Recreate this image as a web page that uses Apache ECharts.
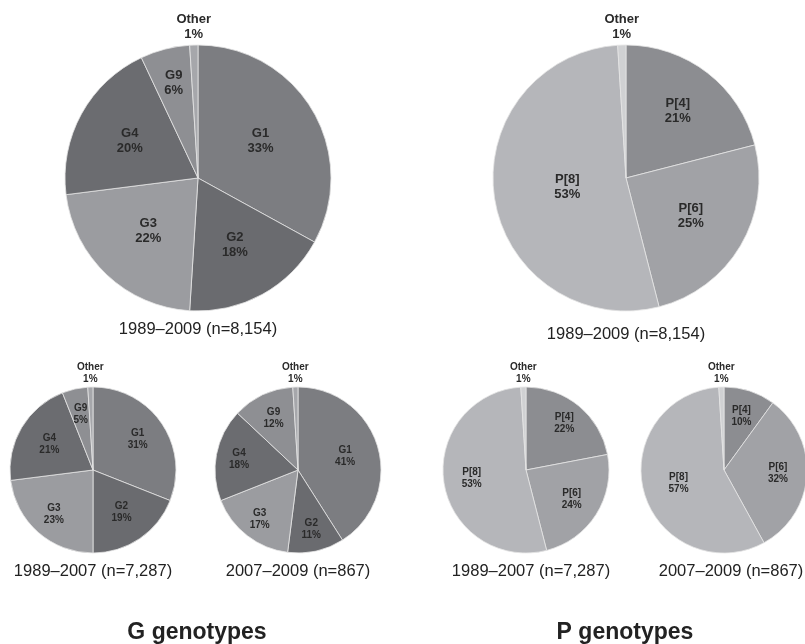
<!DOCTYPE html>
<html>
<head>
<meta charset="utf-8">
<script src="https://cdn.jsdelivr.net/npm/echarts@6/dist/echarts.min.js"></script>
<style>
html,body{margin:0;padding:0;background:#fff;}
#chart{width:805px;height:644px;}
</style>
</head>
<body>
<div id="chart"></div>
<script>
// ---- Data ----
const gNames = ['G1', 'G2', 'G3', 'G4', 'G9', 'Other'];
const gAll = [33, 18, 22, 20, 6, 1];        // 1989–2009 (n=8,154)
const gEarly = [31, 19, 23, 21, 5, 1];      // 1989–2007 (n=7,287)
const gLate = [41, 11, 17, 18, 12, 1];      // 2007–2009 (n=867)

const pNames = ['P[4]', 'P[6]', 'P[8]', 'Other'];
const pAll = [21, 25, 53, 1];
const pEarly = [22, 24, 53, 1];
const pLate = [10, 32, 57, 1];

const captions = ['1989–2009 (n=8,154)', '1989–2007 (n=7,287)', '2007–2009 (n=867)'];
const groupTitles = ['G genotypes', 'P genotypes'];

// ---- Styles ----
const gColors = ['#7c7d81', '#6a6b6f', '#9b9ca0', '#6b6c70', '#8e8f93', '#a6a7ab'];
const pColors = ['#8c8d91', '#a1a2a6', '#b5b6ba', '#d0d1d3'];
const FONT = 'Liberation Sans, Arial, Helvetica, sans-serif';
// label distance from centre, as a fraction of the radius (style only)
const gAllLabelR = [0.55, 0.58, 0.55, 0.59, 0.74];
const gEarlyLabelR = [0.64, 0.6, 0.7, 0.6, 0.67];
const gLateLabelR = [0.58, 0.72, 0.74, 0.71, 0.68];
const pAllLabelR = [0.64, 0.57, 0.45];
const pEarlyLabelR = [0.71, 0.64, 0.65];
const pLateLabelR = [0.67, 0.64, 0.56];
const LABEL_CAL = 0.95;

function pie(names, values, colors, center, radius, big, labelR) {
  const lastIdx = names.length - 1;
  const total = values.reduce((a, b) => a + b, 0);
  const otherGap = big ? 3 : 2;
  const data = names.map((n, i) => {
    const item = { name: n, value: values[i], itemStyle: { color: colors[i] } };
    if (i === lastIdx) {
      item.label = { position: 'outside', fontSize: big ? 13 : 10, lineHeight: big ? 15 : 12 };
      item.labelLine = { show: false, length: otherGap, length2: 0 };
    }
    return item;
  });
  return {
    type: 'pie',
    center: center,
    radius: radius,
    startAngle: 90,
    clockwise: true,
    avoidLabelOverlap: false,
    silent: true,
    itemStyle: { borderColor: '#e4e4e4', borderWidth: 0.8 },
    label: {
      show: true,
      position: 'inside',
      formatter: '{b}\n{c}%',
      fontFamily: FONT,
      fontWeight: 'bold',
      fontSize: big ? 13 : 10,
      lineHeight: big ? 15 : 12,
      color: '#2a2a2a',
      align: 'center'
    },
    labelLine: { show: false },
    labelLayout: function (p) {
      if (p.dataIndex === lastIdx) {
        const ang = (total - values[lastIdx] / 2) / total * Math.PI * 2;
        const d = radius + otherGap;
        return {
          x: center[0] + d * Math.sin(ang),
          y: center[1] - d * Math.cos(ang),
          align: 'center',
          verticalAlign: 'bottom'
        };
      }
      const lr = p.labelRect;
      const lx = lr.x + lr.width / 2;
      const ly = lr.y + lr.height / 2;
      const k = labelR[p.dataIndex] / 0.5 * LABEL_CAL;
      return {
        x: center[0] + (lx - center[0]) * k,
        y: center[1] + (ly - center[1]) * k,
        align: 'center',
        verticalAlign: 'middle'
      };
    },
    data: data
  };
}

function caption(text, x, y) {
  return {
    text: text, left: x, top: y, textAlign: 'center', padding: 0,
    textStyle: { fontFamily: FONT, fontWeight: 'normal', fontSize: 16.5, color: '#222' }
  };
}
function groupTitle(text, x, y) {
  return {
    text: text, left: x, top: y, textAlign: 'center', padding: 0,
    textStyle: { fontFamily: FONT, fontWeight: 'bold', fontSize: 23, color: '#222' }
  };
}

const chart = echarts.init(document.getElementById('chart'), null, { renderer: 'canvas' });
chart.setOption({
  backgroundColor: '#fff',
  animation: false,
  title: [
    caption(captions[0], 198, 321),
    caption(captions[0], 626, 326),
    caption(captions[1], 93, 563),
    caption(captions[2], 298, 563),
    caption(captions[1], 531, 563),
    caption(captions[2], 731, 563),
    groupTitle(groupTitles[0], 197, 621),
    groupTitle(groupTitles[1], 625, 621)
  ],
  series: [
    pie(gNames, gAll, gColors, [198, 178], 133, true, gAllLabelR),
    pie(gNames, gEarly, gColors, [93, 470], 83, false, gEarlyLabelR),
    pie(gNames, gLate, gColors, [298, 470], 83, false, gLateLabelR),
    pie(pNames, pAll, pColors, [626, 178], 133, true, pAllLabelR),
    pie(pNames, pEarly, pColors, [526, 470], 83, false, pEarlyLabelR),
    pie(pNames, pLate, pColors, [724, 470], 83, false, pLateLabelR)
  ]
});
</script>
</body>
</html>
